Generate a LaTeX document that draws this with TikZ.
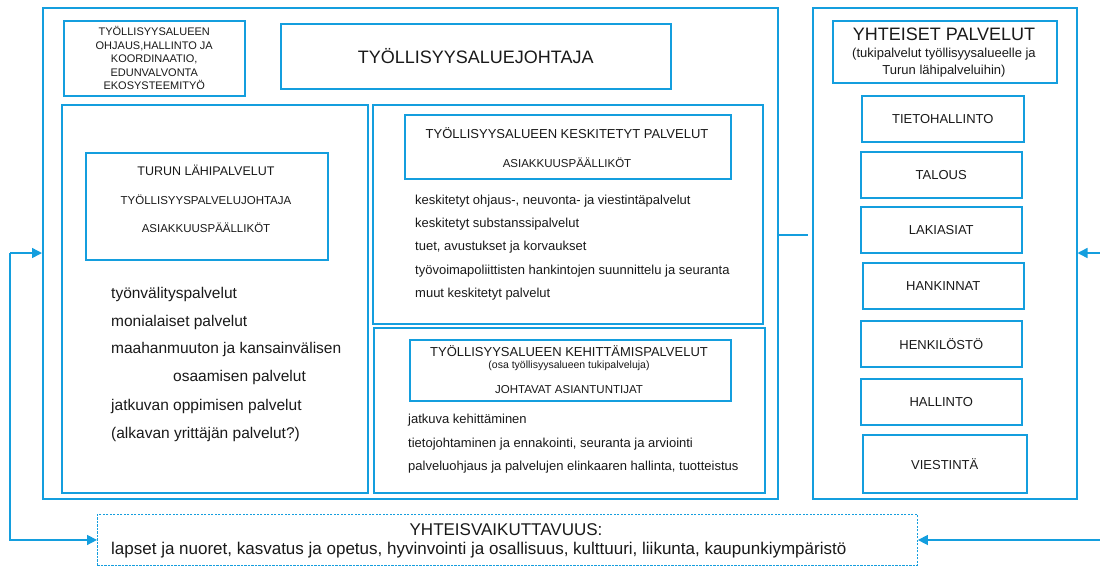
\documentclass[tikz,border=0pt]{standalone}
\usepackage{fontspec}
\setmainfont{Liberation Sans}
\usetikzlibrary{arrows.meta}
\definecolor{bl}{RGB}{20,158,222}
\definecolor{tx}{RGB}{25,25,25}
\newcommand\fs[1]{\fontsize{#1}{#1}\selectfont}
\begin{document}
\begin{tikzpicture}[x=1pt,y=-1pt,
  box/.style={draw=bl,line width=1.5pt,inner sep=0pt,anchor=north west,text=tx},
  dbox/.style={draw=bl,line width=0.9pt,dash pattern=on 2.2pt off 1.3pt,inner sep=0pt,anchor=north west},
  lbl/.style={inner sep=0pt,text=tx},
  li/.style={inner sep=0pt,text=tx,anchor=west},
  conn/.style={draw=bl,line width=1.5pt},
  arr/.style={-{Triangle[length=10pt,width=10pt]}}]
\useasboundingbox (0,0) rectangle (1100,566);
% left main frame
\node[box,minimum width=735pt,minimum height=491pt] (outL) at (42,7) {};
\node[box,minimum width=181pt,minimum height=75pt] (ohj) at (63,20) {};
\node[lbl,align=center,font=\fs{11}\linespread{1.22}\selectfont] at (ohj.center) {TYÖLLISYYSALUEEN\\OHJAUS,HALLINTO JA\\KOORDINAATIO,\\EDUNVALVONTA\\EKOSYSTEEMITYÖ};
\node[box,minimum width=390pt,minimum height=65pt,font=\fs{18}] (joht) at (280,23) {TYÖLLISYYSALUEJOHTAJA};
% left sub box
\node[box,minimum width=306pt,minimum height=388pt] (lsub) at (61,104) {};
\node[box,minimum width=242pt,minimum height=107pt] (turun) at (85,152) {};
\node[lbl,font=\fs{12.5}] at (206,170) {TURUN LÄHIPALVELUT};
\node[lbl,font=\fs{11.5}] at (206,200) {TYÖLLISYYSPALVELUJOHTAJA};
\node[lbl,font=\fs{11.5}] at (206,228) {ASIAKKUUSPÄÄLLIKÖT};
\begin{scope}[every node/.append style={li,font=\fs{15.5}}]
\node at (111,294) {työnvälityspalvelut};
\node at (111,322) {monialaiset palvelut};
\node at (111,349) {maahanmuuton ja kansainvälisen};
\node at (173,377) {osaamisen palvelut};
\node at (111,406) {jatkuvan oppimisen palvelut};
\node at (111,434) {(alkavan yrittäjän palvelut?)};
\end{scope}
% centralised services
\node[box,minimum width=390pt,minimum height=219pt] (kesk) at (372,104) {};
\node[box,minimum width=326pt,minimum height=64pt] (keskh) at (404,114) {};
\node[lbl,font=\fs{13}] at (567,133) {TYÖLLISYYSALUEEN KESKITETYT PALVELUT};
\node[lbl,font=\fs{11.5}] at (567,163) {ASIAKKUUSPÄÄLLIKÖT};
\begin{scope}[every node/.append style={li,font=\fs{13}}]
\node at (415,201) {keskitetyt ohjaus-, neuvonta- ja viestintäpalvelut};
\node at (415,224) {keskitetyt substanssipalvelut};
\node at (415,247) {tuet, avustukset ja korvaukset};
\node at (415,271) {työvoimapoliittisten hankintojen suunnittelu ja seuranta};
\node at (415,294) {muut keskitetyt palvelut};
\end{scope}
% development services
\node[box,minimum width=391pt,minimum height=165pt] (keh) at (373,327) {};
\node[box,minimum width=321pt,minimum height=61pt] (kehh) at (409,339) {};
\node[lbl,font=\fs{13}] at (569,351) {TYÖLLISYYSALUEEN KEHITTÄMISPALVELUT};
\node[lbl,font=\fs{10.5}] at (569,366) {(osa työllisyysalueen tukipalveluja)};
\node[lbl,font=\fs{11.5}] at (569,390) {JOHTAVAT ASIANTUNTIJAT};
\begin{scope}[every node/.append style={li,font=\fs{13}}]
\node at (408,420) {jatkuva kehittäminen};
\node at (408,444) {tietojohtaminen ja ennakointi, seuranta ja arviointi};
\node at (408,467) {palveluohjaus ja palvelujen elinkaaren hallinta, tuotteistus};
\end{scope}
% right frame
\node[box,minimum width=264pt,minimum height=491pt] (outR) at (812,7) {};
\node[box,minimum width=224pt,minimum height=62pt] (yhth) at (832,20) {};
\node[lbl,font=\fs{18}] at (944,34) {YHTEISET PALVELUT};
\node[lbl,font=\fs{13}] at (944,54) {(tukipalvelut työllisyysalueelle ja};
\node[lbl,font=\fs{13}] at (944,71) {Turun lähipalveluihin)};
\begin{scope}[every node/.append style={font=\fs{13}}]
\node[box,minimum width=162pt,minimum height=46pt] (tieto) at (861,95) {TIETOHALLINTO};
\node[box,minimum width=161pt,minimum height=46pt] (talous) at (860,151) {TALOUS};
\node[box,minimum width=161pt,minimum height=46pt] (laki) at (860,206) {LAKIASIAT};
\node[box,minimum width=161pt,minimum height=46pt] (hank) at (862,262) {HANKINNAT};
\node[box,minimum width=161pt,minimum height=46pt] (henk) at (860,320) {HENKILÖSTÖ};
\node[box,minimum width=161pt,minimum height=46pt] (hall) at (860,378) {HALLINTO};
\node[box,minimum width=164pt,minimum height=58pt] (vies) at (862,434) {VIESTINTÄ};
\end{scope}
% cooperation box
\node[dbox,minimum width=820pt,minimum height=51pt] (yv) at (97,514) {};
\node[lbl,font=\fs{17}] at (506,530) {YHTEISVAIKUTTAVUUS:};
\node[li,font=\fs{17}] at (111,550) {lapset ja nuoret, kasvatus ja opetus, hyvinvointi ja osallisuus, kulttuuri, liikunta, kaupunkiympäristö};
% connectors
\coordinate (c1) at (808,235);
\draw[conn] (outL.east |- c1) -- (c1);
\coordinate (lA) at (10,253);
\draw[conn,arr] (lA) -- (lA -| outL.west);
\draw[conn,arr] (lA) |- (yv.west);
\coordinate (rA) at (1101,253);
\draw[conn,arr] (rA) -- (rA -| outR.east);
\coordinate (rB) at (1101,540);
\draw[conn,arr] (rB) -- (rB -| yv.east);
\end{tikzpicture}
\end{document}
